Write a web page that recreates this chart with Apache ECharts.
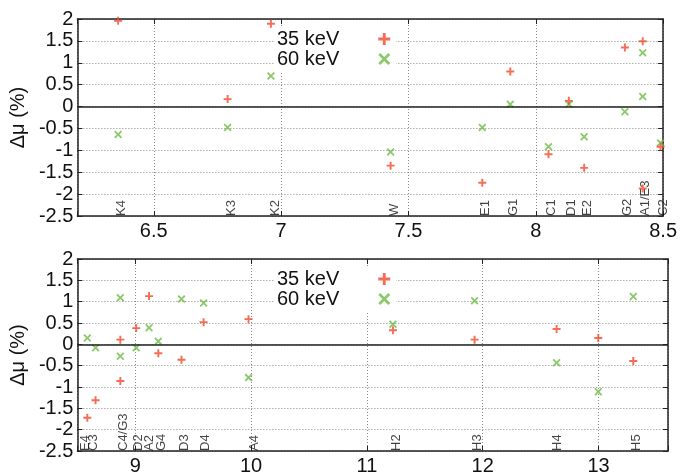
<!DOCTYPE html>
<html>
<head>
<meta charset="utf-8">
<script src="https://cdn.jsdelivr.net/npm/echarts@6/dist/echarts.min.js"></script>
<style>
  html, body { margin: 0; padding: 0; background: #fff; }
  #main { width: 680px; height: 476px; }
</style>
</head>
<body>
<div id="main"></div>
<script>
// upper panel: edge labels and measured points [energy, delta mu]
var topEdgeNames = ['K4', 'K3', 'K2', 'W', 'E1', 'G1', 'C1', 'D1', 'E2', 'G2', 'A1/E3', 'C2'];
var topEdgeX = [6.36, 6.795, 6.965, 7.435, 7.79, 7.90, 8.05, 8.128, 8.19, 8.35, 8.42, 8.49];
var top35 = [[6.36, 1.96], [6.79, 0.17], [6.96, 1.89], [7.43, -1.35], [7.79, -1.74], [7.90, 0.80],
  [8.05, -1.09], [8.13, 0.13], [8.19, -1.40], [8.35, 1.35], [8.42, 1.49], [8.42, -1.87], [8.49, -0.92]];
var top60 = [[6.36, -0.64], [6.79, -0.48], [6.96, 0.70], [7.43, -1.04], [7.79, -0.48], [7.90, 0.05],
  [8.05, -0.92], [8.13, 0.05], [8.19, -0.69], [8.35, -0.12], [8.42, 1.23], [8.42, 0.23], [8.49, -0.83]];

// lower panel
var botEdgeNames = ['E4', 'C3', 'C4/G3', 'D2', 'A2', 'G4', 'D3', 'D4', 'A4', 'H2', 'H3', 'H4', 'H5'];
var botEdgeX = [8.545, 8.615, 8.871, 9.0, 9.10, 9.20, 9.399, 9.58, 10.0, 11.225, 11.93, 12.62, 13.30];
var bot35 = [[8.586, -1.72], [8.657, -1.31], [8.871, 0.11], [8.871, -0.86], [9.008, 0.38], [9.119, 1.13],
  [9.199, -0.21], [9.399, -0.36], [9.59, 0.52], [9.978, 0.59], [11.225, 0.33], [11.93, 0.11],
  [12.638, 0.36], [12.998, 0.15], [13.30, -0.39]];
var bot60 = [[8.586, 0.15], [8.657, -0.08], [8.871, 1.09], [8.871, -0.28], [9.008, -0.08], [9.119, 0.39],
  [9.199, 0.07], [9.399, 1.06], [9.59, 0.97], [9.978, -0.78], [11.225, 0.47], [11.93, 1.02],
  [12.638, -0.43], [12.998, -1.11], [13.30, 1.12]];

var RED = '#f04a2a';
var GREEN = '#6dbb45';
var FONT = "'Liberation Sans', Arial, sans-serif";
var plusPath = 'path://M3.8,0H6.2V3.8H10V6.2H6.2V10H3.8V6.2H0V3.8H3.8Z';
var crossPath = 'path://M0,1.6L1.6,0L5,3.4L8.4,0L10,1.6L6.6,5L10,8.4L8.4,10L5,6.6L1.6,10L0,8.4L3.4,5Z';

var frame = { show: true, onZero: false, lineStyle: { color: '#222', width: 1.5 } };
var ticksIn = { show: true, inside: true, length: 5, lineStyle: { color: '#222' } };
var dotted = { show: true, lineStyle: { color: '#888', width: 1, type: [1, 2] } };

function xAxes(grid, min, max, step) {
  return [{
    gridIndex: grid, type: 'value', position: 'bottom', min: min, max: max,
    minInterval: step, maxInterval: step,
    axisLine: frame, axisTick: ticksIn, splitLine: dotted,
    axisLabel: {
      margin: 5, color: '#111', fontSize: 20, fontFamily: FONT,
      formatter: function (v) {
        var r = v / step;
        return Math.abs(r - Math.round(r)) < 1e-6 ? String(+v.toFixed(2)) : '';
      }
    }
  }, {
    gridIndex: grid, type: 'value', position: 'top', min: min, max: max,
    minInterval: step, maxInterval: step,
    axisLine: frame, axisTick: ticksIn, splitLine: { show: false }, axisLabel: { show: false }
  }];
}

function yAxes(grid) {
  return [{
    gridIndex: grid, type: 'value', position: 'left', min: -2.5, max: 2, interval: 0.5,
    name: 'Δμ (%)', nameLocation: 'middle', nameGap: 46,
    nameTextStyle: { fontSize: 20, fontFamily: FONT, color: '#111' },
    axisLine: frame, axisTick: ticksIn, splitLine: dotted,
    axisLabel: { margin: 4, color: '#111', fontSize: 20, fontFamily: FONT }
  }, {
    gridIndex: grid, type: 'value', position: 'right', min: -2.5, max: 2, interval: 0.5,
    axisLine: frame, axisTick: ticksIn, splitLine: { show: false }, axisLabel: { show: false }
  }];
}

function panelSeries(grid, d35, d60, names, xs) {
  var xi = grid * 2, yi = grid * 2;
  var edges = names.map(function (n, i) { return [xs[i], -2.5, n]; });
  return [{
    name: '35 keV', type: 'scatter', xAxisIndex: xi, yAxisIndex: yi, z: 4,
    symbol: plusPath, symbolSize: 8, itemStyle: { color: RED }, data: d35,
    markLine: {
      silent: true, symbol: 'none', label: { show: false },
      lineStyle: { color: '#222', width: 1.5, type: 'solid' },
      data: [{ yAxis: 0 }]
    }
  }, {
    name: '60 keV', type: 'scatter', xAxisIndex: xi, yAxisIndex: yi, z: 3,
    symbol: crossPath, symbolSize: 8, itemStyle: { color: GREEN }, data: d60
  }, {
    name: 'edges', type: 'scatter', xAxisIndex: xi, yAxisIndex: yi, symbolSize: 0, silent: true,
    data: edges,
    label: {
      show: true, position: 'inside', rotate: 90, align: 'left', verticalAlign: 'middle',
      offset: [0, 3], fontSize: 13, fontFamily: FONT, color: '#111',
      formatter: function (p) { return p.data[2]; }
    }
  }];
}

function legendAt(top) {
  return {
    left: 275, top: top, orient: 'vertical', align: 'right',
    backgroundColor: '#fff', padding: [2, 6, 2, 2], itemGap: 0,
    itemWidth: 12, itemHeight: 12,
    textStyle: { fontSize: 20, fontFamily: FONT, color: '#111', lineHeight: 20, padding: [0, 34, 0, 0] },
    data: [{ name: '35 keV', icon: plusPath, itemStyle: { color: RED } },
      { name: '60 keV', icon: crossPath, itemStyle: { color: GREEN } }]
  };
}

var myChart = echarts.init(document.getElementById('main'));
var option = {
  animation: false,
  backgroundColor: '#fff',
  grid: [
    { left: 72, top: 19, width: 596, height: 197 },
    { left: 72, top: 259, width: 596, height: 197 }
  ],
  legend: [legendAt(27), legendAt(267)],
  xAxis: xAxes(0, 6.2, 8.5, 0.5).concat(xAxes(1, 8.5, 13.6, 1)),
  yAxis: yAxes(0).concat(yAxes(1)),
  series: panelSeries(0, top35, top60, topEdgeNames, topEdgeX)
    .concat(panelSeries(1, bot35, bot60, botEdgeNames, botEdgeX))
};
myChart.setOption(option);
</script>
</body>
</html>
